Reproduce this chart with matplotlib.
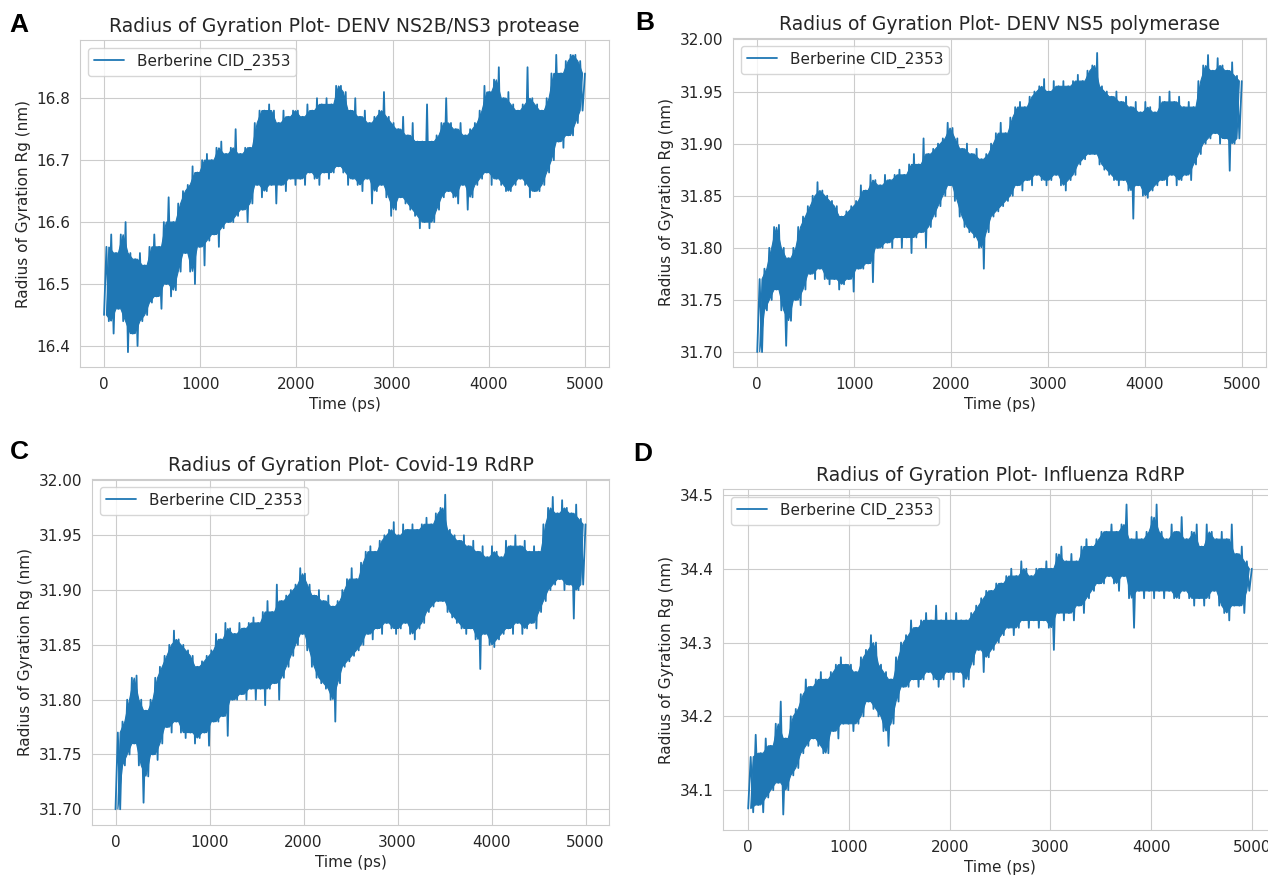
import numpy as np
import matplotlib
matplotlib.use("Agg")
from matplotlib import pyplot as plt
import seaborn as sns

# Rg envelopes, one value every 50 ps (0..5000)
ns2b_hi = [16.56, 16.58, 16.55, 16.58, 16.60, 16.55, 16.54, 16.55, 16.53, 16.56,
           16.58, 16.56, 16.60, 16.64, 16.60, 16.63, 16.65, 16.66, 16.69, 16.68,
           16.70, 16.71, 16.70, 16.72, 16.73, 16.71, 16.72, 16.75, 16.71, 16.72,
           16.72, 16.76, 16.78, 16.78, 16.79, 16.78, 16.76, 16.78, 16.77, 16.78,
           16.78, 16.77, 16.79, 16.78, 16.80, 16.79, 16.80, 16.79, 16.82, 16.82,
           16.81, 16.78, 16.80, 16.77, 16.78, 16.76, 16.77, 16.78, 16.81, 16.77,
           16.76, 16.75, 16.77, 16.74, 16.76, 16.73, 16.73, 16.79, 16.73, 16.74,
           16.76, 16.80, 16.76, 16.75, 16.76, 16.74, 16.75, 16.76, 16.78, 16.82,
           16.81, 16.83, 16.85, 16.80, 16.81, 16.79, 16.78, 16.79, 16.85, 16.80,
           16.79, 16.78, 16.80, 16.84, 16.87, 16.84, 16.86, 16.87, 16.87, 16.86,
           16.84]
ns2b_lo = [16.45, 16.44, 16.42, 16.46, 16.44, 16.39, 16.42, 16.40, 16.44, 16.45,
           16.47, 16.48, 16.46, 16.50, 16.48, 16.49, 16.52, 16.55, 16.52, 16.50,
           16.56, 16.53, 16.57, 16.58, 16.56, 16.59, 16.60, 16.60, 16.61, 16.62,
           16.60, 16.63, 16.66, 16.64, 16.65, 16.66, 16.63, 16.66, 16.65, 16.67,
           16.66, 16.67, 16.66, 16.68, 16.67, 16.66, 16.68, 16.67, 16.68, 16.69,
           16.68, 16.66, 16.67, 16.66, 16.65, 16.67, 16.63, 16.65, 16.66, 16.64,
           16.61, 16.62, 16.64, 16.63, 16.62, 16.61, 16.59, 16.60, 16.59, 16.60,
           16.62, 16.64, 16.65, 16.64, 16.63, 16.66, 16.62, 16.64, 16.66, 16.67,
           16.68, 16.66, 16.67, 16.66, 16.65, 16.65, 16.66, 16.67, 16.66, 16.64,
           16.65, 16.65, 16.66, 16.68, 16.70, 16.73, 16.72, 16.74, 16.74, 16.76,
           16.78]

ns5_hi = [31.770, 31.780, 31.800, 31.820, 31.822, 31.800, 31.790, 31.800, 31.820, 31.830,
          31.840, 31.850, 31.863, 31.855, 31.850, 31.845, 31.840, 31.830, 31.835, 31.840,
          31.845, 31.860, 31.855, 31.870, 31.865, 31.860, 31.870, 31.865, 31.870, 31.875,
          31.870, 31.880, 31.890, 31.880, 31.905, 31.890, 31.895, 31.900, 31.905, 31.920,
          31.915, 31.905, 31.895, 31.900, 31.890, 31.895, 31.885, 31.890, 31.900, 31.910,
          31.920, 31.910, 31.925, 31.935, 31.940, 31.935, 31.945, 31.950, 31.955, 31.962,
          31.950, 31.960, 31.955, 31.960, 31.955, 31.960, 31.966, 31.960, 31.970, 31.975,
          31.987, 31.955, 31.950, 31.945, 31.950, 31.940, 31.945, 31.935, 31.940, 31.930,
          31.940, 31.935, 31.930, 31.945, 31.940, 31.950, 31.940, 31.945, 31.935, 31.940,
          31.935, 31.960, 31.975, 31.985, 31.970, 31.982, 31.975, 31.970, 31.978, 31.965,
          31.960]
ns5_lo = [31.700, 31.700, 31.740, 31.750, 31.760, 31.740, 31.706, 31.730, 31.750, 31.745,
          31.760, 31.775, 31.770, 31.780, 31.770, 31.765, 31.770, 31.760, 31.765, 31.770,
          31.758, 31.780, 31.780, 31.785, 31.767, 31.800, 31.800, 31.805, 31.800, 31.810,
          31.800, 31.810, 31.795, 31.810, 31.815, 31.800, 31.820, 31.830, 31.840, 31.850,
          31.860, 31.845, 31.830, 31.820, 31.815, 31.810, 31.800, 31.780, 31.815, 31.830,
          31.835, 31.840, 31.845, 31.850, 31.860, 31.855, 31.865, 31.860, 31.870, 31.865,
          31.860, 31.865, 31.870, 31.860, 31.855, 31.865, 31.870, 31.880, 31.885, 31.890,
          31.890, 31.880, 31.875, 31.870, 31.865, 31.860, 31.865, 31.855, 31.828, 31.860,
          31.850, 31.848, 31.855, 31.860, 31.865, 31.860, 31.870, 31.860, 31.865, 31.870,
          31.865, 31.880, 31.890, 31.900, 31.905, 31.910, 31.900, 31.905, 31.874, 31.900,
          31.905]

# panel C shows the same trajectory as panel B
covid_hi = ns5_hi
covid_lo = ns5_lo

flu_hi = [34.145, 34.175, 34.150, 34.170, 34.160, 34.190, 34.220, 34.170, 34.200, 34.210,
          34.230, 34.250, 34.240, 34.250, 34.260, 34.250, 34.260, 34.270, 34.280, 34.270,
          34.270, 34.260, 34.280, 34.290, 34.310, 34.300, 34.270, 34.260, 34.250, 34.280,
          34.300, 34.310, 34.330, 34.320, 34.330, 34.340, 34.330, 34.350, 34.330, 34.340,
          34.330, 34.340, 34.330, 34.330, 34.340, 34.350, 34.360, 34.370, 34.370, 34.380,
          34.380, 34.390, 34.400, 34.390, 34.410, 34.400, 34.390, 34.400, 34.400, 34.410,
          34.400, 34.420, 34.430, 34.410, 34.420, 34.410, 34.430, 34.440, 34.430, 34.440,
          34.450, 34.450, 34.460, 34.450, 34.460, 34.487, 34.440, 34.450, 34.440, 34.450,
          34.470, 34.487, 34.450, 34.440, 34.460, 34.450, 34.470, 34.440, 34.450, 34.460,
          34.430, 34.460, 34.450, 34.440, 34.450, 34.440, 34.460, 34.420, 34.430, 34.410,
          34.400]
flu_lo = [34.075, 34.070, 34.080, 34.070, 34.090, 34.100, 34.110, 34.067, 34.100, 34.120,
          34.130, 34.150, 34.160, 34.170, 34.160, 34.150, 34.150, 34.180, 34.170, 34.190,
          34.190, 34.180, 34.190, 34.200, 34.220, 34.210, 34.200, 34.180, 34.160, 34.190,
          34.220, 34.240, 34.240, 34.250, 34.240, 34.250, 34.260, 34.250, 34.240, 34.250,
          34.260, 34.250, 34.260, 34.240, 34.250, 34.270, 34.290, 34.260, 34.280, 34.290,
          34.300, 34.310, 34.320, 34.310, 34.320, 34.330, 34.320, 34.330, 34.320, 34.330,
          34.320, 34.290, 34.340, 34.330, 34.340, 34.330, 34.350, 34.340, 34.360, 34.370,
          34.380, 34.380, 34.390, 34.380, 34.370, 34.390, 34.360, 34.320, 34.370, 34.360,
          34.370, 34.360, 34.370, 34.360, 34.370, 34.360, 34.360, 34.370, 34.360, 34.350,
          34.360, 34.350, 34.360, 34.370, 34.350, 34.340, 34.330, 34.350, 34.350, 34.340,
          34.370]

titles = ["Radius of Gyration Plot- DENV NS2B/NS3 protease",
          "Radius of Gyration Plot- DENV NS5 polymerase",
          "Radius of Gyration Plot- Covid-19 RdRP",
          "Radius of Gyration Plot- Influenza RdRP"]
panel_letters = ["A", "B", "C", "D"]
legend_label = "Berberine CID_2353"

sns.set_style("whitegrid")
plt.rcParams.update({"xtick.labelsize": 11, "ytick.labelsize": 11,
                     "axes.labelsize": 11, "legend.fontsize": 11})

W, H = 1268, 877
fig = plt.figure(figsize=(W / 100, H / 100), dpi=100)

# axes boxes in pixels: left, top, right, bottom
boxes = [(80, 40, 609, 367), (733, 38, 1266, 367),
         (92, 479, 609, 825), (723, 489, 1277, 830)]
letter_pos = [(19, 25), (645, 23), (19, 452), (643, 454)]
series = [(ns2b_lo, ns2b_hi), (ns5_lo, ns5_hi), (covid_lo, covid_hi), (flu_lo, flu_hi)]
blue = "#1f77b4"

for i in range(4):
    l, t, r, b = boxes[i]
    ax = fig.add_axes([l / W, 1 - b / H, (r - l) / W, (b - t) / H])
    lo = np.array(series[i][0])
    hi = np.array(series[i][1])
    y = np.empty(2 * len(lo))
    y[0::2] = lo
    y[1::2] = hi
    time = np.linspace(0, 5000, len(y))
    t_lo = time[0::2]
    t_hi = time[1::2]
    # solid core: only local extremes stick out as spikes
    core_x = np.r_[t_lo[1:], t_hi[:-1][::-1]]
    core_y = np.r_[np.minimum(hi[:-1], hi[1:]), np.maximum(lo[:-1], lo[1:])[::-1]]
    ax.fill(core_x, core_y, color=blue, lw=0.8)
    ax.plot(time, y, color=blue, lw=1.3, label=legend_label)
    ax.set_title(titles[i], fontsize=13.5)
    ax.set_xlabel("Time (ps)")
    ax.set_ylabel("Radius of Gyration Rg (nm)")
    ax.legend(loc="upper left")
    lx, ly = letter_pos[i]
    fig.text(lx / W, 1 - ly / H, panel_letters[i], fontsize=19, fontweight="bold",
             family="Liberation Sans", ha="center", va="center", color="black")

fig.savefig("out.png", dpi=100)
